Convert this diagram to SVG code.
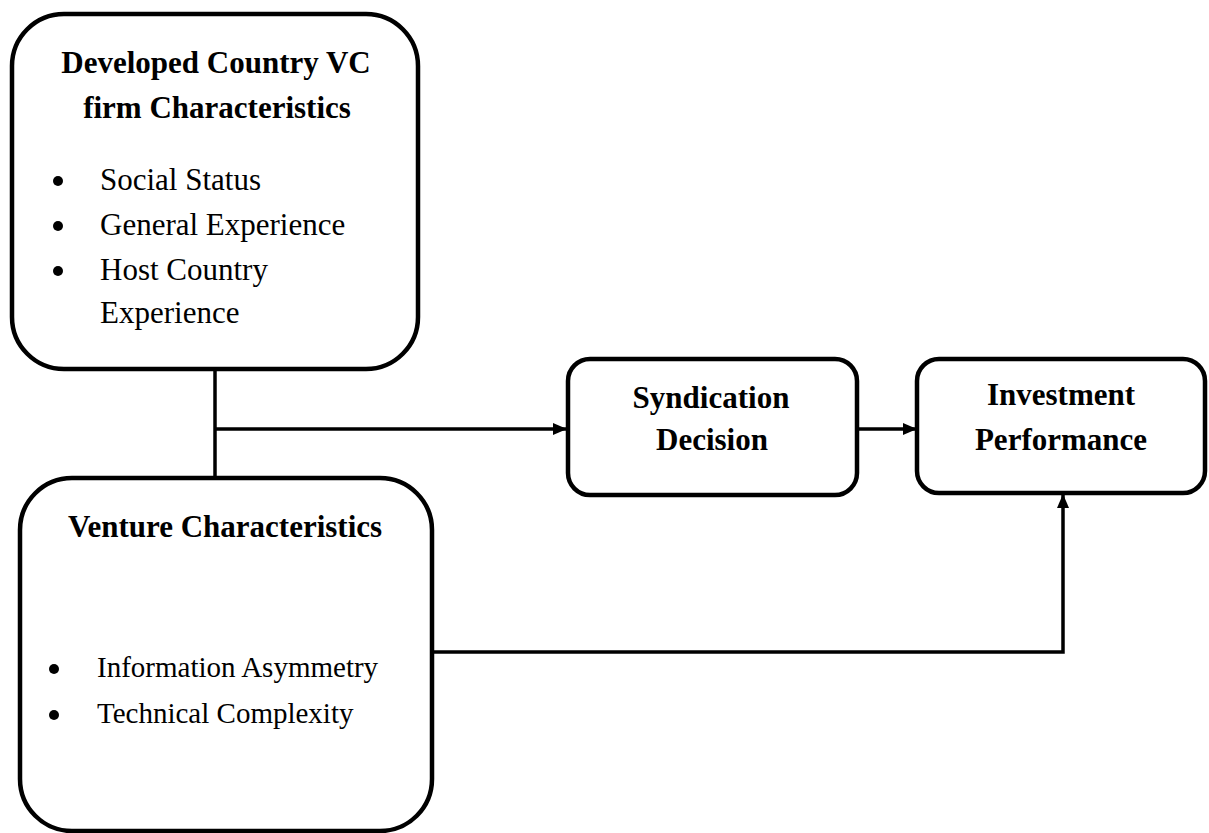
<svg xmlns="http://www.w3.org/2000/svg" width="1209" height="833" viewBox="0 0 1209 833">
<style>
.box{fill:#fff;stroke:#000;stroke-width:4.5}
.t{font-family:"Liberation Serif","Times New Roman",serif;fill:#000}
.b{font-weight:bold}
.c{text-anchor:middle}
.con{fill:none;stroke:#000;stroke-width:3.5}
</style>
<defs>
<marker id="ah" viewBox="0 0 14 12" refX="13" refY="6" markerWidth="14" markerHeight="12" markerUnits="userSpaceOnUse" orient="auto">
<path d="M0,0 L14,6 L0,12 Z" fill="#000"/>
</marker>
</defs>
<rect width="1209" height="833" fill="#fff"/>
<g id="connectors">
<path class="con" d="M215,369 V478"/>
<path class="con" d="M215,429 H566" marker-end="url(#ah)"/>
<path class="con" d="M857,429 H916" marker-end="url(#ah)"/>
<path class="con" d="M432,652 H1063 V495" marker-end="url(#ah)"/>
</g>
<g id="developed">
<rect class="box" x="12" y="14" width="406" height="355" rx="52"/>
<text class="t b c" x="216" y="73" font-size="31">Developed Country VC</text>
<text class="t b c" x="217" y="118" font-size="31">firm Characteristics</text>
<circle cx="58" cy="181" r="5"/>
<circle cx="58" cy="226" r="5"/>
<circle cx="58" cy="271" r="5"/>
<text class="t" x="100" y="190" font-size="31">Social Status</text>
<text class="t" x="100" y="235" font-size="31">General Experience</text>
<text class="t" x="100" y="280" font-size="31">Host Country</text>
<text class="t" x="100" y="323" font-size="31">Experience</text>
</g>
<g id="venture">
<rect class="box" x="20" y="478" width="412" height="353" rx="52"/>
<text class="t b c" x="225" y="537" font-size="31">Venture Characteristics</text>
<circle cx="54" cy="669" r="5"/>
<circle cx="54" cy="715" r="5"/>
<text class="t" x="97" y="677" font-size="29">Information Asymmetry</text>
<text class="t" x="97" y="723" font-size="29">Technical Complexity</text>
</g>
<g id="syndication">
<rect class="box" x="568" y="359" width="289" height="136" rx="22"/>
<text class="t b c" x="711" y="408" font-size="31">Syndication</text>
<text class="t b c" x="712" y="450" font-size="31">Decision</text>
</g>
<g id="investment">
<rect class="box" x="917" y="359" width="288" height="134" rx="22"/>
<text class="t b c" x="1061" y="405" font-size="31">Investment</text>
<text class="t b c" x="1061" y="450" font-size="31">Performance</text>
</g>
</svg>
